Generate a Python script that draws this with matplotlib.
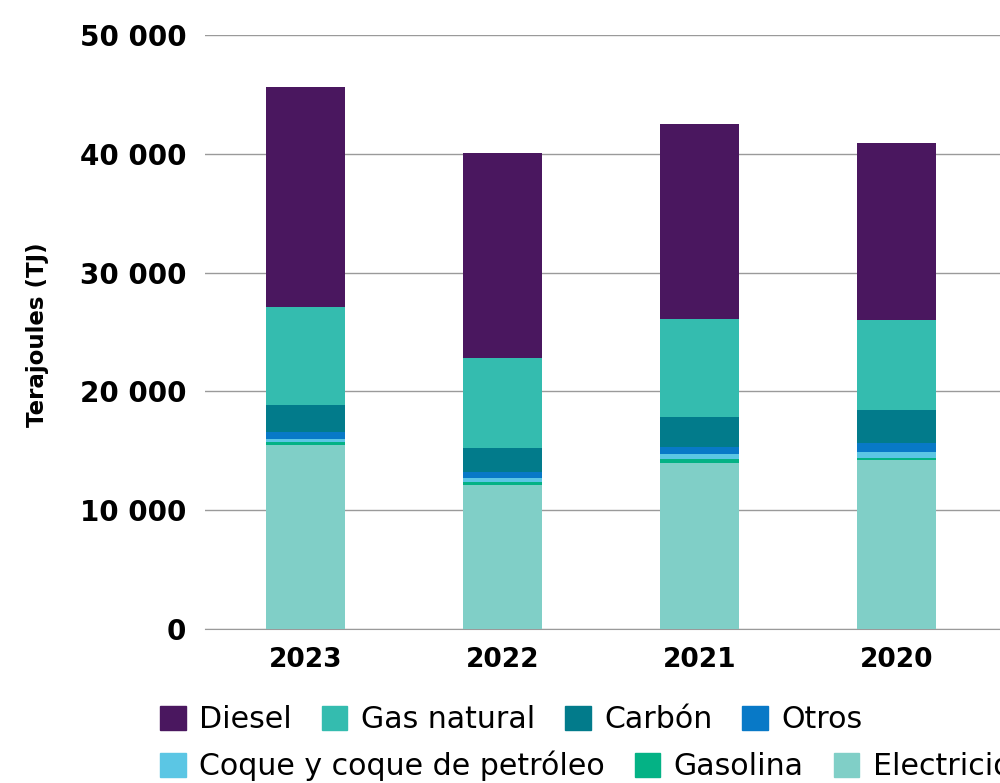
import matplotlib.pyplot as plt
from matplotlib.patches import Patch
from matplotlib.ticker import FuncFormatter

# datos (TJ)
years = ['2023', '2022', '2021', '2020']
electricidad = [15490, 12120, 13970, 14230]
gasolina = [250, 250, 340, 160]
coque = [250, 340, 420, 510]
otros = [590, 510, 590, 760]
carbon = [2270, 2020, 2530, 2770]
gas_natural = [8250, 7570, 8240, 7580]
diesel = [18520, 17260, 16420, 14900]

series = [
    ('Electricidad', electricidad, '#80cfc7'),
    ('Gasolina', gasolina, '#04b285'),
    ('Coque y coque de petróleo', coque, '#5bc6e4'),
    ('Otros', otros, '#0879c7'),
    ('Carbón', carbon, '#027b8b'),
    ('Gas natural', gas_natural, '#34bcaf'),
    ('Diesel', diesel, '#4a175f'),
]

fig = plt.figure(figsize=(10, 7.83), dpi=100)
ax = fig.add_axes([0.205, 1 - 629 / 783, 0.795, (629 - 35) / 783])

x = range(len(years))
bottom = [0] * len(years)
colors = {}
for name, vals, col in series:
    ax.bar(x, vals, width=0.4, bottom=bottom, color=col, zorder=3)
    bottom = [b + v for b, v in zip(bottom, vals)]
    colors[name] = col

ax.set_ylim(0, 50000)
ax.set_xlim(-0.51, -0.51 + 795 / 197)
ax.set_yticks(range(0, 50001, 10000))
ax.yaxis.set_major_formatter(FuncFormatter(lambda v, p: f'{int(v):,}'.replace(',', ' ')))
ax.set_xticks(list(x))
ax.set_xticklabels(years)
ax.grid(axis='y', color='#9a9a9a', linewidth=1, zorder=0)
for s in ['top', 'right', 'left']:
    ax.spines[s].set_visible(False)
ax.spines['bottom'].set_color('#9a9a9a')
ax.tick_params(axis='y', length=0, pad=13.5, labelsize=20)
ax.tick_params(axis='x', length=0, pad=13, labelsize=19)
for lab in ax.get_yticklabels() + ax.get_xticklabels():
    lab.set_fontweight('bold')

fig.text(0.038, 1 - 335 / 783, 'Terajoules (TJ)', rotation=90, ha='center', va='center',
         fontsize=16.5, fontweight='bold')

# leyenda en dos filas
row1 = ['Diesel', 'Gas natural', 'Carbón', 'Otros']
row2 = ['Coque y coque de petróleo', 'Gasolina', 'Electricidad']
kw = dict(frameon=False, fontsize=21.6, handlelength=0.85, handleheight=0.85,
          handletextpad=0.45, columnspacing=1.0, borderaxespad=0, borderpad=0,
          loc='center left')
leg1 = fig.legend([Patch(color=colors[n]) for n in row1], row1, ncol=4,
                  bbox_to_anchor=(0.16, 1 - 720 / 783), **kw)
leg2 = fig.legend([Patch(color=colors[n]) for n in row2], row2, ncol=3,
                  bbox_to_anchor=(0.16, 1 - 766 / 783), **kw)

plt.savefig('out.png', dpi=100)
